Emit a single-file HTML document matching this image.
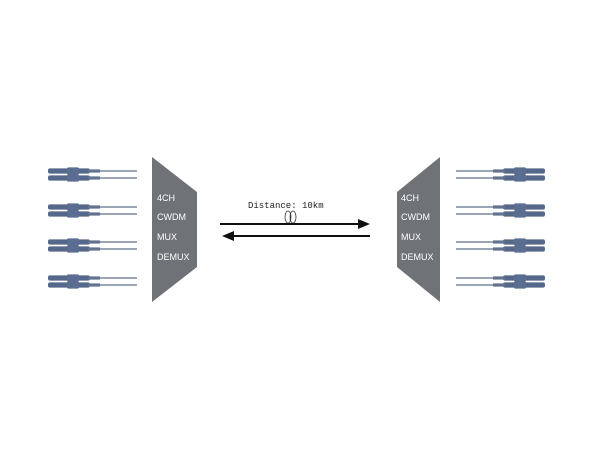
<!DOCTYPE html>
<html><head><style>body{margin:0;background:#fff}svg{display:block}</style></head><body>
<svg width="610" height="450" viewBox="0 0 610 450" xmlns="http://www.w3.org/2000/svg">
<defs>
<g id="cl">
  <line x1="95" y1="0" x2="137" y2="0" stroke="#5f6f8a" stroke-width="1.2"/>
  <rect x="48" y="-2.6" width="42" height="5.2" rx="2" fill="#566889"/>
  <rect x="67" y="-3.6" width="12" height="7.2" rx="1.5" fill="#5b6d90"/>
  <rect x="88" y="-1.6" width="12" height="3.2" fill="#62728f"/>
</g>
<g id="cp"><use href="#cl" y="0"/><use href="#cl" y="7"/></g>
</defs>
<g>
<use href="#cp" y="171"/><use href="#cp" y="207"/><use href="#cp" y="242"/><use href="#cp" y="278"/>
</g>
<g transform="translate(593,0) scale(-1,1)">
<use href="#cp" y="171"/><use href="#cp" y="207"/><use href="#cp" y="242"/><use href="#cp" y="278"/>
</g>
<polygon points="152,157 197,192 197,267 152,302" fill="#6f7276"/>
<polygon points="440,157 397,192 397,267 440,302" fill="#6f7276"/>
<g fill="#fff" font-family="Liberation Sans, sans-serif" font-size="9">
<text x="157" y="201">4CH</text><text x="157" y="220">CWDM</text><text x="157" y="240">MUX</text><text x="157" y="260">DEMUX</text>
<text x="401" y="201">4CH</text><text x="401" y="220">CWDM</text><text x="401" y="240">MUX</text><text x="401" y="260">DEMUX</text>
</g>
<text x="248" y="208" font-family="Liberation Mono, monospace" font-size="9" fill="#222">Distance: 10km</text>
<ellipse cx="288" cy="217" rx="3" ry="6" fill="none" stroke="#333" stroke-width="0.8"/>
<ellipse cx="293" cy="217" rx="3" ry="6" fill="none" stroke="#333" stroke-width="0.8"/>
<line x1="220" y1="224" x2="362" y2="224" stroke="#111" stroke-width="2"/>
<polygon points="370,224 358,219 358,229" fill="#111"/>
<line x1="230" y1="236" x2="370" y2="236" stroke="#111" stroke-width="2"/>
<polygon points="222,236 234,231 234,241" fill="#111"/>
</svg>
</body></html>
